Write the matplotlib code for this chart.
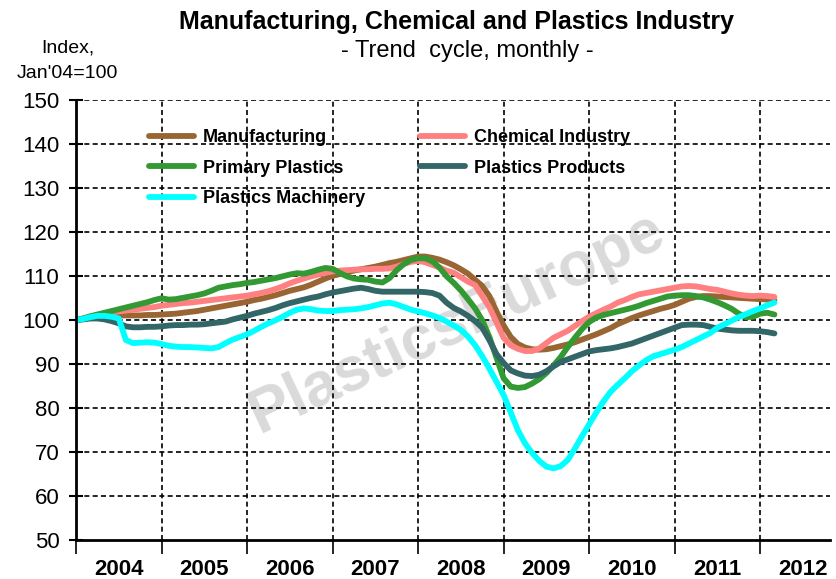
import matplotlib
matplotlib.use("Agg")
import matplotlib.pyplot as plt
from matplotlib.lines import Line2D

# monthly trend-cycle index, Jan 2004 .. Mar 2012 (Jan'04 = 100)
manufacturing = [
    100.0, 100.3, 100.6, 100.9, 101.0, 101.1, 101.1, 101.1, 101.1, 101.1, 101.2, 101.2,
    101.3, 101.4, 101.5, 101.7, 101.9, 102.1, 102.4, 102.7, 103.0, 103.3, 103.6, 103.9,
    104.2, 104.6, 104.9, 105.3, 105.7, 106.2, 106.7, 107.1, 107.5, 108.1, 108.8, 109.5,
    110.1, 110.5, 110.9, 111.3, 111.6, 111.9, 112.2, 112.6, 113.0, 113.3, 113.7, 114.1,
    114.5, 114.5, 114.2, 113.8, 113.2, 112.5, 111.6, 110.6, 109.2, 107.8, 105.5, 102.0,
    98.8, 96.2, 94.6, 93.8, 93.4, 93.3, 93.4, 93.7, 94.1, 94.5, 95.0, 95.6,
    96.2, 96.8, 97.5, 98.2, 99.1, 99.8, 100.5, 101.1, 101.6, 102.1, 102.6, 103.0,
    103.5, 104.2, 104.9, 105.3, 105.5, 105.5, 105.4, 105.3, 105.2, 105.1, 105.0, 104.9,
    104.8, 104.7, 104.5,
]
chemical = [
    100.0, 100.4, 100.8, 101.2, 101.5, 101.8, 102.0, 102.2, 102.4, 102.6, 102.8, 103.0,
    103.3, 103.5, 103.7, 103.9, 104.0, 104.2, 104.4, 104.6, 104.8, 105.0, 105.2, 105.4,
    105.6, 105.9, 106.2, 106.6, 107.1, 107.7, 108.4, 109.0, 109.5, 110.0, 110.4, 110.8,
    111.1, 111.3, 111.4, 111.5, 111.6, 111.6, 111.7, 111.7, 111.8, 112.2, 112.8, 113.3,
    113.5, 113.2, 112.6, 112.0, 111.3, 110.8, 109.8, 108.8, 108.0, 105.5, 103.0, 99.5,
    96.0, 94.3, 93.5, 93.0, 93.0, 93.6, 94.8, 96.0, 96.8, 97.6, 98.7, 99.8,
    100.8, 101.6, 102.4, 103.1, 104.0, 104.6, 105.3, 105.9, 106.2, 106.5, 106.8, 107.1,
    107.4, 107.7, 107.8, 107.7, 107.4, 107.1, 106.9, 106.5, 106.1, 105.8, 105.6, 105.5,
    105.6, 105.5, 105.3,
]
primary_plastics = [
    100.0, 100.4, 100.9, 101.3, 101.7, 102.1, 102.5, 102.9, 103.3, 103.7, 104.1, 104.6,
    105.0, 104.7, 104.8, 105.1, 105.4, 105.7, 106.1, 106.7, 107.4, 107.7, 108.0, 108.2,
    108.5, 108.7, 109.0, 109.3, 109.6, 110.0, 110.4, 110.7, 110.6, 111.0, 111.5, 111.9,
    111.7, 110.8, 110.0, 109.5, 109.3, 109.2, 108.8, 108.6, 109.6, 111.4, 112.8, 113.7,
    114.1, 114.1, 113.4, 112.0, 110.0, 108.5, 106.8, 104.8, 102.7, 100.0, 96.2, 91.5,
    86.8, 84.9, 84.6, 84.8, 85.6, 86.6, 88.0, 89.7, 91.6, 93.9, 96.0, 98.0,
    99.6, 100.6, 101.2, 101.6, 102.0, 102.4, 102.8, 103.3, 103.9, 104.4, 104.9, 105.4,
    105.6, 105.7, 105.7, 105.5, 105.2, 104.7, 104.1, 103.4, 102.6, 101.5, 100.7, 100.8,
    101.5, 101.7, 101.3,
]
plastics_products = [
    100.0, 100.2, 100.4, 100.4, 100.2, 99.8, 99.3, 98.6, 98.4, 98.4, 98.5, 98.5,
    98.6, 98.8, 98.9, 98.9, 99.0, 99.0, 99.1, 99.3, 99.5, 99.7, 100.2, 100.6,
    101.0, 101.5, 101.9, 102.3, 102.8, 103.4, 103.9, 104.3, 104.7, 105.1, 105.4, 105.9,
    106.3, 106.6, 106.9, 107.2, 107.4, 107.1, 106.7, 106.5, 106.5, 106.5, 106.5, 106.5,
    106.5, 106.4, 106.2, 105.6, 104.0, 102.8, 102.0, 101.0, 99.8, 98.3, 95.5, 92.3,
    90.3, 88.6, 87.9, 87.4, 87.3, 87.6, 88.4, 89.5, 90.5, 91.1, 91.7, 92.3,
    92.9, 93.2, 93.4, 93.6, 93.9, 94.3, 94.7, 95.3, 95.9, 96.5, 97.1, 97.7,
    98.3, 98.9, 99.0, 99.0, 98.9, 98.5, 98.1, 97.9, 97.7, 97.6, 97.6, 97.6,
    97.5, 97.3, 97.0,
]
plastics_machinery = [
    100.0, 100.3, 100.7, 101.0, 101.0, 100.8, 100.4, 95.5, 94.8, 94.9, 95.0, 94.9,
    94.6, 94.2, 94.0, 93.9, 93.9, 93.8, 93.7, 93.6, 93.9, 94.8, 95.6, 96.2,
    96.8, 97.6, 98.5, 99.3, 100.0, 100.8, 101.7, 102.4, 102.7, 102.5, 102.2, 102.1,
    102.1, 102.3, 102.4, 102.5, 102.7, 103.0, 103.4, 103.8, 104.0, 103.6, 103.0, 102.4,
    102.0, 101.6, 101.1, 100.5, 99.7, 98.8, 97.8, 96.3, 94.3, 91.8, 89.0, 86.0,
    83.0, 79.0, 75.0, 72.0, 69.8, 68.0, 66.7, 66.3, 66.8, 68.2, 70.8, 73.6,
    76.3, 79.0, 81.5, 83.7, 85.3, 86.8, 88.4, 89.7, 90.9, 91.8, 92.3, 92.8,
    93.3, 93.9, 94.7, 95.5, 96.3, 97.1, 98.3, 99.1, 99.9, 100.7, 101.4, 102.1,
    102.7, 103.4, 104.0,
]
years = ["2004", "2005", "2006", "2007", "2008", "2009", "2010", "2011", "2012"]

series = [
    ("Manufacturing", manufacturing, "#996633"),
    ("Chemical Industry", chemical, "#ff8080"),
    ("Primary Plastics", primary_plastics, "#339933"),
    ("Plastics Products", plastics_products, "#336666"),
    ("Plastics Machinery", plastics_machinery, "#00ffff"),
]

narrow = ["Liberation Sans Narrow", "Liberation Sans", "DejaVu Sans"]
plt.rcParams["font.family"] = ["Liberation Sans", "DejaVu Sans"]

W, H = 837, 579
fig = plt.figure(figsize=(W / 100, H / 100), dpi=100)
ax = fig.add_axes([76 / W, 39 / H, (830 - 76) / W, (540 - 100.5) / H])

months = list(range(len(manufacturing)))
lines = {}
for name, vals, col in series:
    ln, = ax.plot(months, vals, color=col, lw=4.2, solid_capstyle="round",
                  solid_joinstyle="round", zorder=3, label=name)
    lines[name] = ln

# watermark
ax.text(53.5, 99.5, "PlasticsEurope", rotation=25, ha="center", va="center",
        fontsize=45, fontweight="bold", color="#dadada", zorder=0.3)

ax.set_xlim(0, 105.8)
ax.set_ylim(50, 150)
ax.set_yticks(range(50, 151, 10))
ax.set_xticks(range(0, 97, 12))
ax.set_xticklabels([])
ax.set_xticks([6 + 12 * i for i in range(len(years))], minor=True)
ax.set_xticklabels(years, minor=True, fontsize=16, fontweight="bold")
ax.tick_params(axis="x", which="major", direction="out", length=10, width=1.2)
ax.tick_params(axis="x", which="minor", length=0, pad=14)
ax.tick_params(axis="y", direction="inout", length=10, width=1.5, labelsize=16, pad=7)

ax.set_axisbelow(True)
for v in range(60, 151, 10):
    ax.axhline(v, color="black", lw=1.2, ls=(0, (3, 2)), zorder=0.5)
for x in range(12, 97, 12):
    ax.axvline(x, color="black", lw=1.2, ls=(0, (3, 2)), zorder=0.5)

for s in ["top", "right"]:
    ax.spines[s].set_visible(False)
for s in ["left", "bottom"]:
    ax.spines[s].set_linewidth(2)
    ax.spines[s].set_zorder(4)

order = ["Manufacturing", "Primary Plastics", "Plastics Machinery",
         "Chemical Industry", "Plastics Products"]
handles = [Line2D([], [], color=lines[n].get_color(), lw=4.2, solid_capstyle="round")
           for n in order]
leg = ax.legend(handles, order, ncol=2, frameon=False, loc="upper left",
                bbox_to_anchor=(140 / W, 1 - 120 / H), bbox_transform=fig.transFigure,
                prop={"weight": "bold", "size": 13}, handlelength=2.5,
                handletextpad=0.5, columnspacing=3.0, labelspacing=0.75, borderpad=0)

fig.text(457 / W, 1 - 22 / H, "Manufacturing, Chemical and Plastics Industry",
         ha="center", va="center", fontsize=18, fontweight="bold", family=narrow)
fig.text(467 / W, 1 - 51 / H, "- Trend  cycle, monthly -",
         ha="center", va="center", fontsize=17, family=narrow)
fig.text(68 / W, 1 - 48 / H, "Index,", ha="center", va="center",
         fontsize=14, family=narrow)
fig.text(67 / W, 1 - 73 / H, "Jan'04=100", ha="center", va="center",
         fontsize=14, family=narrow)

fig.savefig("out.png", dpi=100)
